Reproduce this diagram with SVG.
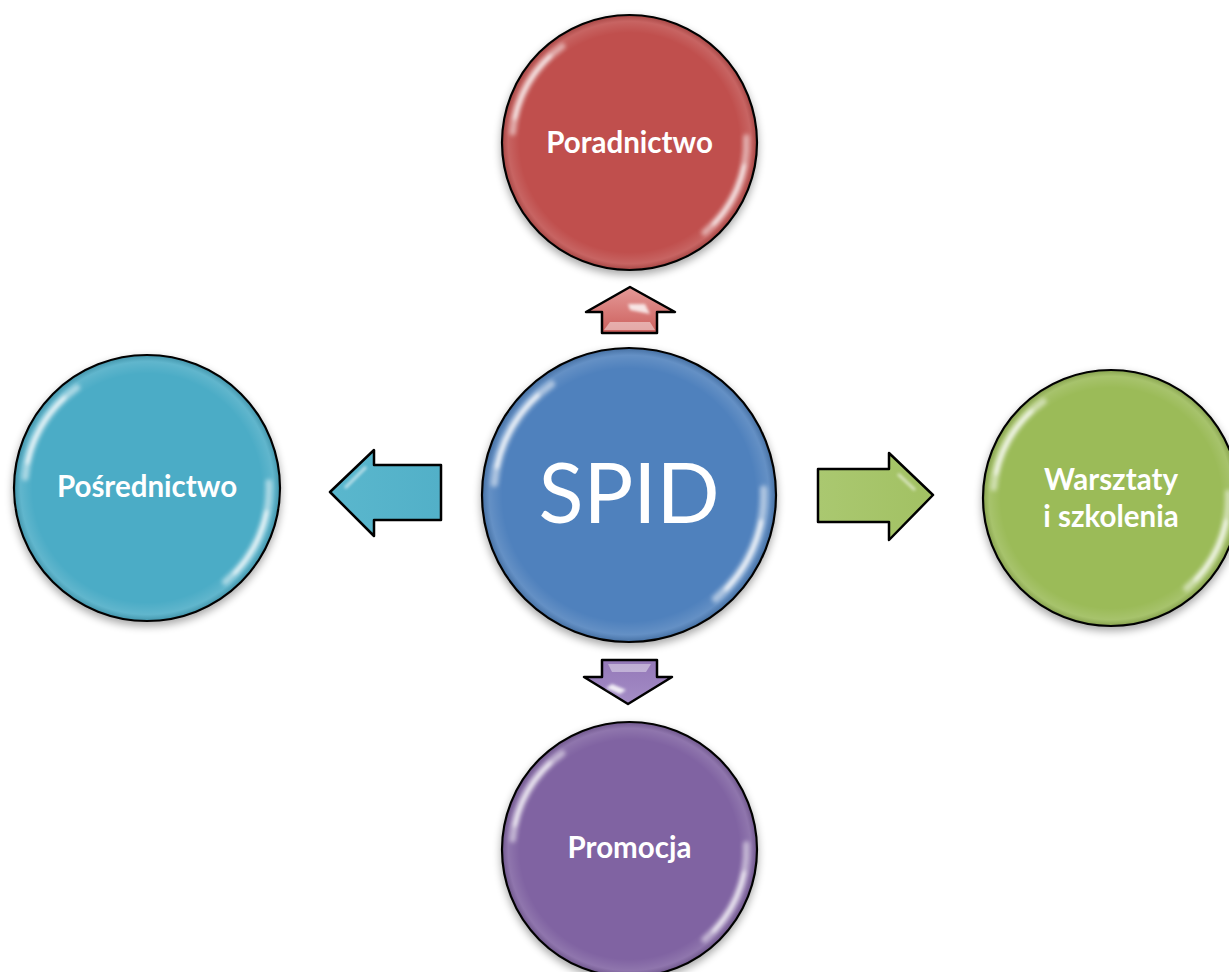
<svg xmlns="http://www.w3.org/2000/svg" xmlns:xlink="http://www.w3.org/1999/xlink" width="1229" height="972" viewBox="0 0 1229 972">
<style>
  .ring{stroke:#000;stroke-width:2.2}
  .lbl{font-family:"Lato","Open Sans","Liberation Sans",sans-serif;font-weight:bold;fill:#fff;text-anchor:middle;font-size:29.5px}
  .big{font-family:"Lato","Open Sans","Liberation Sans",sans-serif;font-weight:normal;fill:#fff;text-anchor:middle}
  .arr{stroke:#000;stroke-width:2.5;stroke-linejoin:round}
</style>
<defs>
  <filter id="shadow" x="-20%" y="-20%" width="140%" height="140%">
    <feGaussianBlur in="SourceAlpha" stdDeviation="4"/>
    <feOffset dy="4" result="b"/>
    <feComponentTransfer><feFuncA type="linear" slope="0.35"/></feComponentTransfer>
    <feMerge><feMergeNode/><feMergeNode in="SourceGraphic"/></feMerge>
  </filter>
  <filter id="soft" x="-30%" y="-30%" width="160%" height="160%">
    <feGaussianBlur stdDeviation="1.6"/>
  </filter>
  <radialGradient id="rim" cx="0.5" cy="0.5" r="0.5">
    <stop offset="0.86" stop-color="#fff" stop-opacity="0"/>
    <stop offset="0.95" stop-color="#fff" stop-opacity="0.12"/>
    <stop offset="1" stop-color="#000" stop-opacity="0.15"/>
  </radialGradient>
  <g id="gloss">
    <circle r="100" fill="url(#rim)"/>
    <g filter="url(#soft)" fill="none" stroke="#fff" stroke-linecap="round">
      <path d="M -91.6 -8 A 92 92 0 0 1 -52.8 -75.4" stroke-width="5" stroke-opacity="0.5"/>
      <path d="M -90 -19 A 92 92 0 0 1 -62 -68" stroke-width="2.6" stroke-opacity="0.95"/>
      <path d="M 91.6 -4 A 92 92 0 0 1 59 70.5" stroke-width="5" stroke-opacity="0.5"/>
      <path d="M 90 18 A 92 92 0 0 1 66 64" stroke-width="2.6" stroke-opacity="0.95"/>
    </g>
  </g>
  <linearGradient id="gRed" x1="0" y1="0" x2="0" y2="1"><stop offset="0" stop-color="#e59a98"/><stop offset="1" stop-color="#cc5f5c"/></linearGradient>
  <linearGradient id="gPur" x1="0" y1="0" x2="0" y2="1"><stop offset="0" stop-color="#9478b8"/><stop offset="1" stop-color="#a48dc6"/></linearGradient>
  <linearGradient id="gCy" x1="0" y1="0" x2="1" y2="0"><stop offset="0" stop-color="#5ab7cd"/><stop offset="1" stop-color="#52b0c8"/></linearGradient>
  <linearGradient id="gGr" x1="0" y1="0" x2="1" y2="0"><stop offset="0" stop-color="#aac870"/><stop offset="1" stop-color="#a2c163"/></linearGradient>
</defs>
<rect width="1229" height="972" fill="#fff"/>

<g id="connectors">
  <g id="arrow-up">
    <polygon class="arr" fill="url(#gRed)" points="630,287 675,312 657,312 657,333 602,333 602,312 586,312"/>
    <polygon points="610,322 650,322 655,330 604,330" fill="#fff" opacity="0.45"/>
    <polygon points="628,304 645,304 650,314 630,310" fill="#fff" opacity="0.8" filter="url(#soft)"/>
  </g>
  <g id="arrow-down">
    <polygon class="arr" fill="url(#gPur)" points="602,660 657,660 657,677 672,677 628,704 584,677 602,677"/>
    <polygon points="608,664 651,664 646,672 612,672" fill="#fff" opacity="0.4"/>
    <polygon points="612,684 626,690 620,694 606,688" fill="#fff" opacity="0.85" filter="url(#soft)"/>
  </g>
  <g id="arrow-left">
    <polygon class="arr" fill="url(#gCy)" points="330,492 374,450 374,465 441,465 441,520 374,520 374,536"/>
    <path d="M 431 472 L 431 514" stroke="#fff" stroke-width="4" opacity="0.8" filter="url(#soft)"/>
    <path d="M 345 488 L 366 467" stroke="#fff" stroke-width="3" opacity="0.6" filter="url(#soft)"/>
  </g>
  <g id="arrow-right">
    <polygon class="arr" fill="url(#gGr)" points="818,469 889,469 889,453 933,495 889,540 889,522 818,522"/>
    <path d="M 828 476 L 828 514" stroke="#fff" stroke-width="4" opacity="0.7" filter="url(#soft)"/>
    <path d="M 898 474 L 915 490" stroke="#fff" stroke-width="3" opacity="0.6" filter="url(#soft)"/>
  </g>
</g>

<g id="node-spid">
  <circle class="ring" cx="629" cy="495" r="147" fill="#4f81bd" filter="url(#shadow)"/>
  <use xlink:href="#gloss" href="#gloss" transform="translate(629,495) scale(1.47)"/>
  <text class="big" x="629" y="523" font-size="83">SPID</text>
</g>

<g id="node-poradnictwo">
  <circle class="ring" cx="629.5" cy="142.5" r="127.5" fill="#c0504d" filter="url(#shadow)"/>
  <use xlink:href="#gloss" href="#gloss" transform="translate(629.5,142.5) scale(1.275)"/>
  <text class="lbl" x="629.5" y="153">Poradnictwo</text>
</g>

<g id="node-posrednictwo">
  <circle class="ring" cx="147" cy="488" r="133" fill="#4bacc6" filter="url(#shadow)"/>
  <use xlink:href="#gloss" href="#gloss" transform="translate(147,488) scale(1.33)"/>
  <text class="lbl" x="147" y="497">Pośrednictwo</text>
</g>

<g id="node-warsztaty">
  <circle class="ring" cx="1111" cy="498" r="128" fill="#9bbb59" filter="url(#shadow)"/>
  <use xlink:href="#gloss" href="#gloss" transform="translate(1111,498) scale(1.28)"/>
  <text class="lbl" x="1111" y="490">Warsztaty</text>
  <text class="lbl" x="1111" y="527">i szkolenia</text>
</g>

<g id="node-promocja">
  <circle class="ring" cx="629.5" cy="849.5" r="127.5" fill="#8064a2" filter="url(#shadow)"/>
  <use xlink:href="#gloss" href="#gloss" transform="translate(629.5,849.5) scale(1.275)"/>
  <text class="lbl" x="629.5" y="858">Promocja</text>
</g>
</svg>
